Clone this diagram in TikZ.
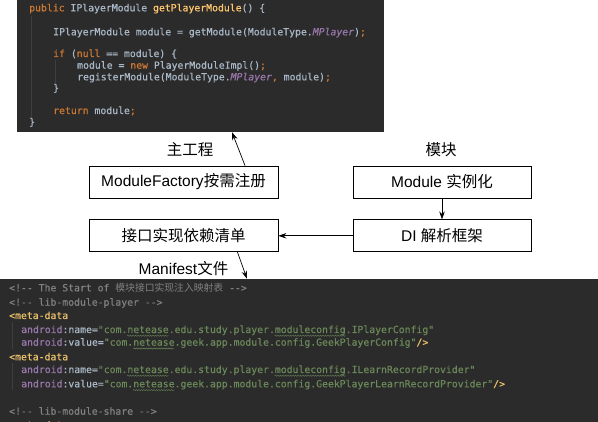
\documentclass[tikz,border=0pt]{standalone}
\usepackage{fontspec}
\usepackage{xcolor}
\usetikzlibrary{positioning,calc,arrows.meta,decorations.pathmorphing}

\newfontfamily\hv{Liberation Sans}
\newfontfamily\cjk{Noto Sans CJK SC}
\newfontfamily\mono[Ligatures=TeXOff,FakeBold=0.6]{DejaVu Sans Mono}

\definecolor{codebg}{HTML}{2B2B2B}
\definecolor{cpl}{HTML}{A9B7C6}
\definecolor{ckw}{HTML}{CC7832}
\definecolor{cfn}{HTML}{FFC66D}
\definecolor{cpu}{HTML}{9876AA}
\definecolor{ccm}{HTML}{808080}
\definecolor{ctag}{HTML}{E8BF6A}
\definecolor{cstr}{HTML}{6A8759}
\definecolor{cguide}{HTML}{3E3E3E}

\newcommand\ckw[1]{\textcolor{ckw}{#1}}
\newcommand\cfn[1]{\textcolor{cfn}{#1}}
\newcommand\cpu[1]{\textcolor{cpu}{\itshape #1}}
\newcommand\cattr[1]{\textcolor{cpu}{#1}}
\newcommand\ccm[1]{\textcolor{ccm}{#1}}
\newcommand\ctag[1]{\textcolor{ctag}{#1}}
\newcommand\cstr[1]{\textcolor{cstr}{#1}}

\begin{document}
\begin{tikzpicture}[x=1pt, y=-1pt,
    box/.style={draw, line width=0.8pt, minimum height=32pt, inner sep=0pt,
      font=\hv\fontsize{15.5}{18}\selectfont},
    lbl/.style={inner sep=0pt, font=\hv\fontsize{15.5}{18}\selectfont},
    code/.style={fill=codebg, inner sep=0pt},
    codeline/.style={anchor=base west, inner sep=0pt, text=cpl,
      font=\mono\fontsize{9.8}{11}\selectfont},
    link/.style={-{Stealth[length=8pt,width=5.5pt]}, line width=0.7pt},
    wavy/.style={draw=cstr, line width=0.4pt, decorate,
      decoration={snake, amplitude=0.6pt, segment length=2.5pt}}]

  \useasboundingbox (0,0) rectangle (598,422);

  % code screenshots
  \node[code, minimum width=367pt, minimum height=132pt] (maincode) at (200.5,66) {};
  \node[code, minimum width=598pt, minimum height=150pt] (manicode) at (299,354) {};

  \draw[cguide] (31,16) -- (31,118) (55,60) -- (55,84)
                (12,322) -- (12,349) (12,363) -- (12,390);

  \foreach \xx/\yy/\txt [count=\i] in {
      29/11.3/{\ckw{public} IPlayerModule \cfn{getPlayerModule}() \{},
      53/35.3/{IPlayerModule module = getModule(ModuleType.\cpu{MPlayer})\ckw{;}},
      53/57/{\ckw{if} (\ckw{null} == module) \{},
      77/68.7/{module = \ckw{new} PlayerModuleImpl()\ckw{;}},
      77/80.3/{registerModule(ModuleType.\cpu{MPlayer}\ckw{,} module)\ckw{;}},
      53/91.3/{\}},
      53/114/{\ckw{return} module\ckw{;}},
      29/125.3/{\}}}
    \node[codeline] (src\i) at (\xx,\yy) {\txt};

  \foreach \xx/\yy/\txt [count=\i] in {
      9/291.3/{\ccm{<!-- The Start of {\cjk 模块接口实现注入映射表} -->}},
      9/305.7/{\ccm{<!-- lib-module-player -->}},
      9/319/{\ctag{<meta-data}},
      21/333/{\cattr{android}:name=\cstr{"com.netease.edu.study.player.moduleconfig.IPlayerConfig"}},
      21/345.7/{\cattr{android}:value=\cstr{"com.netease.geek.app.module.config.GeekPlayerConfig"}\ctag{/>}},
      9/360.3/{\ctag{<meta-data}},
      21/373/{\cattr{android}:name=\cstr{"com.netease.edu.study.player.moduleconfig.ILearnRecordProvider"}},
      21/387.3/{\cattr{android}:value=\cstr{"com.netease.geek.app.module.config.GeekPlayerLearnRecordProvider"}\ctag{/>}},
      9/414.7/{\ccm{<!-- lib-module-share -->}},
      9/428.5/{\ctag{<meta-data}}}
    \node[codeline] (man\i) at (\xx,\yy) {\txt};

  % spell-check marks
  \foreach \l/\cc/\nn in {4/18/7, 4/43/12, 5/19/7, 7/18/7, 7/43/12, 8/19/7}
    \draw[wavy] ($(man\l.base west)+(\cc*5.9,2.8)$) -- ($(man\l.base west)+({(\cc+\nn)*5.9},2.8)$);

  % boxes
  \node[box, minimum width=189pt] (factory) at (183.5,182) {ModuleFactory{\cjk 按需注册}};
  \node[box, minimum width=189pt, below=21pt of factory] (deps) {{\cjk 接口实现依赖清单}};
  \node[box, minimum width=178pt] (inst) at (442,182) {Module {\cjk 实例化}};
  \node[box, minimum width=178pt, below=21pt of inst] (di) {DI {\cjk 解析框架}};

  \node[lbl] (mainlbl) at (190,150) {{\cjk 主工程}};
  \node[lbl] (modlbl) at (441,150) {{\cjk 模块}};
  \node[lbl] (manilbl) at (183.5,269) {Manifest{\cjk 文件}};

  \draw[link] ($(factory.north)+(61.5,0)$) -- ($(maincode.south)+(31.5,0)$);
  \draw[link] (inst) -- (di);
  \draw[link] (di) -- (deps);
  \draw[link] ($(deps.south)+(54,0)$) -- ($(manicode.north)+(-52,0)$);
\end{tikzpicture}
\end{document}
